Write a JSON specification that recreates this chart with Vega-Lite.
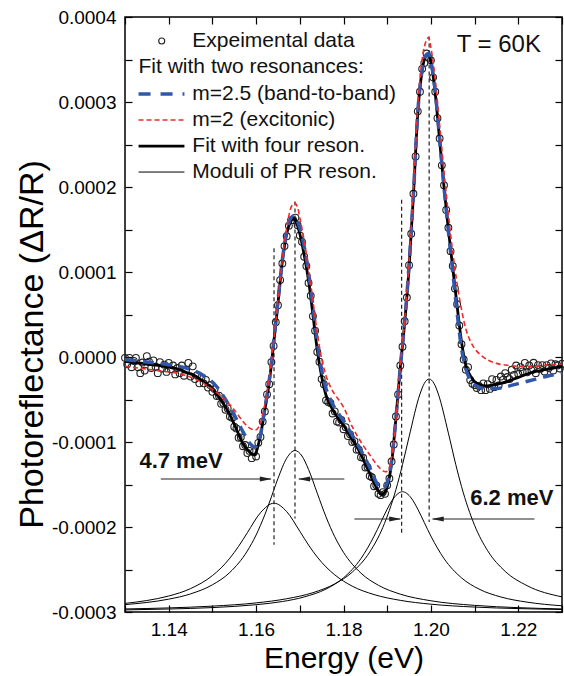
{
  "$schema": "https://vega.github.io/schema/vega-lite/v6.json",
  "width": 437,
  "height": 595,
  "autosize": {"type": "none"},
  "padding": {"left": 125, "top": 17, "right": 2, "bottom": 64},
  "background": "white",
  "config": {
    "view": {"stroke": "black", "strokeWidth": 1.5},
    "font": "Liberation Sans",
    "axis": {"labelFont": "Liberation Sans", "titleFont": "Liberation Sans", "labelColor": "black", "titleColor": "black", "tickColor": "black", "tickWidth": 1.2, "domain": false, "grid": false, "titleFontWeight": "normal"}
  },
  "resolve": {"axis": {"x": "independent", "y": "independent"}},
  "datasets": {
    "mod": [
      {"c":1,"x":1.130,"y":-2.899e-4},{"c":1,"x":1.135,"y":-2.865e-4},{"c":1,"x":1.140,"y":-2.812e-4},{"c":1,"x":1.145,"y":-2.725e-4},{"c":1,"x":1.150,"y":-2.572e-4},{"c":1,"x":1.152,"y":-2.481e-4},{"c":1,"x":1.154,"y":-2.366e-4},{"c":1,"x":1.156,"y":-2.227e-4},{"c":1,"x":1.158,"y":-2.067e-4},{"c":1,"x":1.161,"y":-1.832e-4},{"c":1,"x":1.1641,"y":-1.72e-4},{"c":1,"x":1.167,"y":-1.819e-4},{"c":1,"x":1.170,"y":-2.05e-4},{"c":1,"x":1.172,"y":-2.212e-4},{"c":1,"x":1.174,"y":-2.354e-4},{"c":1,"x":1.176,"y":-2.47e-4},{"c":1,"x":1.178,"y":-2.563e-4},{"c":1,"x":1.182,"y":-2.696e-4},{"c":1,"x":1.187,"y":-2.795e-4},{"c":1,"x":1.193,"y":-2.863e-4},{"c":1,"x":1.200,"y":-2.908e-4},{"c":1,"x":1.210,"y":-2.942e-4},{"c":1,"x":1.220,"y":-2.96e-4},{"c":1,"x":1.230,"y":-2.971e-4},
      {"c":2,"x":1.130,"y":-2.913e-4},{"c":2,"x":1.135,"y":-2.888e-4},{"c":2,"x":1.140,"y":-2.849e-4},{"c":2,"x":1.145,"y":-2.787e-4},{"c":2,"x":1.150,"y":-2.68e-4},{"c":2,"x":1.154,"y":-2.534e-4},{"c":2,"x":1.158,"y":-2.281e-4},{"c":2,"x":1.160,"y":-2.094e-4},{"c":2,"x":1.162,"y":-1.855e-4},{"c":2,"x":1.163,"y":-1.718e-4},{"c":2,"x":1.165,"y":-1.43e-4},{"c":2,"x":1.167,"y":-1.191e-4},{"c":2,"x":1.1689,"y":-1.10e-4},{"c":2,"x":1.1705,"y":-1.165e-4},{"c":2,"x":1.172,"y":-1.323e-4},{"c":2,"x":1.174,"y":-1.603e-4},{"c":2,"x":1.176,"y":-1.881e-4},{"c":2,"x":1.178,"y":-2.115e-4},{"c":2,"x":1.180,"y":-2.298e-4},{"c":2,"x":1.184,"y":-2.543e-4},{"c":2,"x":1.188,"y":-2.686e-4},{"c":2,"x":1.193,"y":-2.79e-4},{"c":2,"x":1.200,"y":-2.868e-4},{"c":2,"x":1.210,"y":-2.922e-4},{"c":2,"x":1.220,"y":-2.949e-4},{"c":2,"x":1.230,"y":-2.964e-4},
      {"c":3,"x":1.130,"y":-2.975e-4},{"c":3,"x":1.140,"y":-2.965e-4},{"c":3,"x":1.150,"y":-2.948e-4},{"c":3,"x":1.160,"y":-2.914e-4},{"c":3,"x":1.166,"y":-2.877e-4},{"c":3,"x":1.171,"y":-2.823e-4},{"c":3,"x":1.176,"y":-2.73e-4},{"c":3,"x":1.180,"y":-2.598e-4},{"c":3,"x":1.184,"y":-2.371e-4},{"c":3,"x":1.187,"y":-2.107e-4},{"c":3,"x":1.1885,"y":-1.949e-4},{"c":3,"x":1.190,"y":-1.79e-4},{"c":3,"x":1.1915,"y":-1.659e-4},{"c":3,"x":1.1935,"y":-1.585e-4},{"c":3,"x":1.1955,"y":-1.659e-4},{"c":3,"x":1.197,"y":-1.79e-4},{"c":3,"x":1.1985,"y":-1.949e-4},{"c":3,"x":1.200,"y":-2.107e-4},{"c":3,"x":1.203,"y":-2.371e-4},{"c":3,"x":1.207,"y":-2.598e-4},{"c":3,"x":1.211,"y":-2.73e-4},{"c":3,"x":1.216,"y":-2.823e-4},{"c":3,"x":1.222,"y":-2.884e-4},{"c":3,"x":1.230,"y":-2.927e-4},
      {"c":4,"x":1.130,"y":-2.964e-4},{"c":4,"x":1.140,"y":-2.952e-4},{"c":4,"x":1.150,"y":-2.931e-4},{"c":4,"x":1.160,"y":-2.893e-4},{"c":4,"x":1.167,"y":-2.844e-4},{"c":4,"x":1.173,"y":-2.773e-4},{"c":4,"x":1.178,"y":-2.669e-4},{"c":4,"x":1.182,"y":-2.531e-4},{"c":4,"x":1.186,"y":-2.295e-4},{"c":4,"x":1.189,"y":-2.005e-4},{"c":4,"x":1.192,"y":-1.559e-4},{"c":4,"x":1.1935,"y":-1.267e-4},{"c":4,"x":1.195,"y":-0.94e-4},{"c":4,"x":1.1975,"y":-0.436e-4},{"c":4,"x":1.1985,"y":-0.31e-4},{"c":4,"x":1.1996,"y":-0.259e-4},{"c":4,"x":1.2007,"y":-0.31e-4},{"c":4,"x":1.2017,"y":-0.436e-4},{"c":4,"x":1.204,"y":-0.8955e-4},{"c":4,"x":1.2057,"y":-1.267e-4},{"c":4,"x":1.207,"y":-1.523e-4},{"c":4,"x":1.210,"y":-1.981e-4},{"c":4,"x":1.213,"y":-2.28e-4},{"c":4,"x":1.217,"y":-2.522e-4},{"c":4,"x":1.222,"y":-2.69e-4},{"c":4,"x":1.230,"y":-2.822e-4}
    ],
    "vl": [
      {"x":1.1641,"y":1.28e-4,"y2":-2.21e-4},
      {"x":1.1689,"y":1.83e-4,"y2":-1.90e-4},
      {"x":1.1933,"y":1.85e-4,"y2":-2.07e-4},
      {"x":1.1996,"y":3.77e-4,"y2":-1.94e-4}
    ],
    "pts": [
      {"x":1.1300,"y":-0.01e-4},{"x":1.1305,"y":-0.085e-4},{"x":1.1310,"y":-0.01e-4},{"x":1.1315,"y":-0.12e-4},{"x":1.1320,"y":-0.045e-4},{"x":1.1325,"y":-0.01e-4},{"x":1.1330,"y":-0.12e-4},{"x":1.1335,"y":-0.19e-4},{"x":1.1340,"y":-0.065e-4},{"x":1.1345,"y":-0.16e-4},
      {"x":1.1350,"y":0.01e-4},{"x":1.1355,"y":-0.055e-4},{"x":1.1360,"y":-0.13e-4},{"x":1.1365,"y":-0.04e-4},{"x":1.1370,"y":-0.115e-4},{"x":1.1375,"y":-0.19e-4},{"x":1.1380,"y":-0.06e-4},{"x":1.1385,"y":-0.135e-4},{"x":1.1390,"y":-0.09e-4},{"x":1.1395,"y":-0.175e-4},
      {"x":1.1400,"y":-0.07e-4},{"x":1.1405,"y":-0.145e-4},{"x":1.1410,"y":-0.10e-4},{"x":1.1415,"y":-0.205e-4},{"x":1.1420,"y":-0.13e-4},{"x":1.1425,"y":-0.19e-4},{"x":1.1430,"y":-0.10e-4},{"x":1.1435,"y":-0.22e-4},{"x":1.1440,"y":-0.15e-4},{"x":1.1445,"y":-0.07e-4},
      {"x":1.1450,"y":-0.23e-4},{"x":1.1455,"y":-0.11e-4},{"x":1.1460,"y":-0.26e-4},{"x":1.1465,"y":-0.215e-4},{"x":1.1470,"y":-0.31e-4},{"x":1.1475,"y":-0.24e-4},{"x":1.1480,"y":-0.31e-4},{"x":1.1485,"y":-0.27e-4},{"x":1.1490,"y":-0.36e-4},{"x":1.1495,"y":-0.33e-4},
      {"x":1.1500,"y":-0.41e-4},{"x":1.1505,"y":-0.375e-4},{"x":1.1510,"y":-0.46e-4},{"x":1.1515,"y":-0.455e-4},{"x":1.1520,"y":-0.55e-4},{"x":1.1525,"y":-0.54e-4},{"x":1.1530,"y":-0.62e-4},{"x":1.1535,"y":-0.605e-4},{"x":1.1540,"y":-0.70e-4},{"x":1.1545,"y":-0.715e-4},
      {"x":1.1550,"y":-0.82e-4},{"x":1.1555,"y":-0.84e-4},{"x":1.1560,"y":-0.95e-4},{"x":1.1565,"y":-0.945e-4},{"x":1.1570,"y":-1.05e-4},{"x":1.1575,"y":-1.035e-4},{"x":1.1580,"y":-1.13e-4},{"x":1.1585,"y":-1.105e-4},{"x":1.1590,"y":-1.19e-4},{"x":1.1595,"y":-1.12e-4},
      {"x":1.1600,"y":-1.17e-4},{"x":1.1605,"y":-1.01e-4},{"x":1.1610,"y":-0.94e-4},{"x":1.1615,"y":-0.76e-4},{"x":1.1620,"y":-0.64e-4},{"x":1.1625,"y":-0.44e-4},{"x":1.1630,"y":-0.32e-4},{"x":1.1635,"y":-0.06e-4},{"x":1.1640,"y":0.13e-4},{"x":1.1645,"y":0.41e-4},
      {"x":1.1650,"y":0.61e-4},{"x":1.1655,"y":0.905e-4},{"x":1.1660,"y":1.10e-4},{"x":1.1665,"y":1.305e-4},{"x":1.1670,"y":1.42e-4},{"x":1.1675,"y":1.545e-4},{"x":1.1680,"y":1.61e-4},{"x":1.1685,"y":1.61e-4},{"x":1.1690,"y":1.64e-4},{"x":1.1695,"y":1.55e-4},
      {"x":1.1700,"y":1.43e-4},{"x":1.1705,"y":1.355e-4},{"x":1.1710,"y":1.18e-4},{"x":1.1715,"y":1.07e-4},{"x":1.1720,"y":0.87e-4},{"x":1.1725,"y":0.72e-4},{"x":1.1730,"y":0.48e-4},{"x":1.1735,"y":0.31e-4},{"x":1.1740,"y":0.06e-4},{"x":1.1745,"y":-0.055e-4},
      {"x":1.1750,"y":-0.26e-4},{"x":1.1755,"y":-0.32e-4},{"x":1.1760,"y":-0.51e-4},{"x":1.1765,"y":-0.53e-4},{"x":1.1770,"y":-0.54e-4},{"x":1.1775,"y":-0.665e-4},{"x":1.1780,"y":-0.64e-4},{"x":1.1785,"y":-0.76e-4},{"x":1.1790,"y":-0.77e-4},{"x":1.1795,"y":-0.74e-4},
      {"x":1.1800,"y":-0.85e-4},{"x":1.1805,"y":-0.825e-4},{"x":1.1810,"y":-0.93e-4},{"x":1.1815,"y":-0.91e-4},{"x":1.1820,"y":-1.00e-4},{"x":1.1825,"y":-0.99e-4},{"x":1.1830,"y":-1.09e-4},{"x":1.1835,"y":-1.09e-4},{"x":1.1840,"y":-1.18e-4},{"x":1.1845,"y":-1.185e-4},
      {"x":1.1850,"y":-1.30e-4},{"x":1.1855,"y":-1.295e-4},{"x":1.1860,"y":-1.40e-4},{"x":1.1865,"y":-1.415e-4},{"x":1.1870,"y":-1.52e-4},{"x":1.1875,"y":-1.51e-4},{"x":1.1880,"y":-1.61e-4},{"x":1.1885,"y":-1.625e-4},{"x":1.1890,"y":-1.59e-4},{"x":1.1895,"y":-1.61e-4},
      {"x":1.1900,"y":-1.51e-4},{"x":1.1905,"y":-1.43e-4},{"x":1.1910,"y":-1.23e-4},{"x":1.1915,"y":-1.03e-4},{"x":1.1920,"y":-0.70e-4},{"x":1.1925,"y":-0.44e-4},{"x":1.1930,"y":-0.10e-4},{"x":1.1935,"y":0.12e-4},{"x":1.1940,"y":0.42e-4},{"x":1.1945,"y":0.70e-4},
      {"x":1.1950,"y":1.08e-4},{"x":1.1955,"y":1.45e-4},{"x":1.1960,"y":1.92e-4},{"x":1.1965,"y":2.36e-4},{"x":1.1970,"y":2.89e-4},{"x":1.1975,"y":3.12e-4},{"x":1.1980,"y":3.39e-4},{"x":1.1985,"y":3.46e-4},{"x":1.1990,"y":3.57e-4},{"x":1.1995,"y":3.52e-4},
      {"x":1.2000,"y":3.49e-4},{"x":1.2005,"y":3.29e-4},{"x":1.2010,"y":3.12e-4},{"x":1.2015,"y":2.81e-4},{"x":1.2020,"y":2.57e-4},{"x":1.2025,"y":2.255e-4},{"x":1.2030,"y":2.02e-4},{"x":1.2035,"y":1.73e-4},{"x":1.2040,"y":1.52e-4},{"x":1.2045,"y":1.245e-4},
      {"x":1.2050,"y":1.07e-4},{"x":1.2055,"y":0.805e-4},{"x":1.2060,"y":0.62e-4},{"x":1.2065,"y":0.37e-4},{"x":1.2070,"y":0.15e-4},{"x":1.2075,"y":-0.03e-4},{"x":1.2080,"y":-0.15e-4},{"x":1.2085,"y":-0.12e-4},{"x":1.2090,"y":-0.27e-4},{"x":1.2095,"y":-0.315e-4},
      {"x":1.2100,"y":-0.33e-4},{"x":1.2105,"y":-0.365e-4},{"x":1.2110,"y":-0.34e-4},{"x":1.2115,"y":-0.39e-4},{"x":1.2120,"y":-0.31e-4},{"x":1.2125,"y":-0.39e-4},{"x":1.2130,"y":-0.32e-4},{"x":1.2135,"y":-0.375e-4},{"x":1.2140,"y":-0.26e-4},{"x":1.2145,"y":-0.355e-4},
      {"x":1.2150,"y":-0.27e-4},{"x":1.2155,"y":-0.335e-4},{"x":1.2160,"y":-0.23e-4},{"x":1.2165,"y":-0.27e-4},{"x":1.2170,"y":-0.19e-4},{"x":1.2175,"y":-0.235e-4},{"x":1.2180,"y":-0.26e-4},{"x":1.2185,"y":-0.15e-4},{"x":1.2190,"y":-0.21e-4},{"x":1.2195,"y":-0.10e-4},
      {"x":1.2200,"y":-0.20e-4},{"x":1.2205,"y":-0.12e-4},{"x":1.2210,"y":-0.17e-4},{"x":1.2215,"y":-0.07e-4},{"x":1.2220,"y":-0.18e-4},{"x":1.2225,"y":-0.10e-4},{"x":1.2230,"y":-0.155e-4},{"x":1.2235,"y":-0.068e-4},{"x":1.2240,"y":-0.19e-4},{"x":1.2245,"y":-0.095e-4},
      {"x":1.2250,"y":-0.14e-4},{"x":1.2255,"y":-0.095e-4},{"x":1.2260,"y":-0.17e-4},{"x":1.2265,"y":-0.095e-4},{"x":1.2270,"y":-0.13e-4},{"x":1.2275,"y":-0.075e-4},{"x":1.2280,"y":-0.16e-4},{"x":1.2285,"y":-0.085e-4},{"x":1.2290,"y":-0.10e-4},{"x":1.2295,"y":-0.135e-4},
      {"x":1.2300,"y":-0.08e-4}
    ],
    "fit": [
      {"x":1.130,"y":-0.05e-4},{"x":1.132,"y":-0.065e-4},{"x":1.134,"y":-0.075e-4},{"x":1.136,"y":-0.09e-4},{"x":1.138,"y":-0.10e-4},{"x":1.140,"y":-0.12e-4},{"x":1.142,"y":-0.14e-4},{"x":1.144,"y":-0.18e-4},{"x":1.146,"y":-0.22e-4},{"x":1.148,"y":-0.29e-4},
      {"x":1.150,"y":-0.37e-4},{"x":1.151,"y":-0.44e-4},{"x":1.152,"y":-0.51e-4},{"x":1.153,"y":-0.59e-4},{"x":1.154,"y":-0.68e-4},{"x":1.155,"y":-0.79e-4},{"x":1.156,"y":-0.91e-4},{"x":1.157,"y":-1.02e-4},{"x":1.158,"y":-1.09e-4},{"x":1.159,"y":-1.14e-4},
      {"x":1.1597,"y":-1.15e-4},{"x":1.160,"y":-1.12e-4},{"x":1.161,"y":-0.92e-4},{"x":1.162,"y":-0.62e-4},{"x":1.163,"y":-0.30e-4},{"x":1.164,"y":0.15e-4},{"x":1.165,"y":0.63e-4},{"x":1.166,"y":1.12e-4},{"x":1.167,"y":1.45e-4},{"x":1.168,"y":1.60e-4},
      {"x":1.1685,"y":1.63e-4},{"x":1.169,"y":1.61e-4},{"x":1.170,"y":1.45e-4},{"x":1.171,"y":1.20e-4},{"x":1.172,"y":0.90e-4},{"x":1.173,"y":0.50e-4},{"x":1.174,"y":0.08e-4},{"x":1.175,"y":-0.23e-4},{"x":1.176,"y":-0.45e-4},{"x":1.177,"y":-0.57e-4},
      {"x":1.178,"y":-0.66e-4},{"x":1.179,"y":-0.74e-4},{"x":1.180,"y":-0.80e-4},{"x":1.181,"y":-0.89e-4},{"x":1.182,"y":-0.97e-4},{"x":1.183,"y":-1.05e-4},{"x":1.184,"y":-1.15e-4},{"x":1.185,"y":-1.26e-4},{"x":1.186,"y":-1.37e-4},{"x":1.187,"y":-1.48e-4},
      {"x":1.188,"y":-1.58e-4},{"x":1.1887,"y":-1.62e-4},{"x":1.1895,"y":-1.59e-4},{"x":1.190,"y":-1.53e-4},{"x":1.191,"y":-1.25e-4},{"x":1.192,"y":-0.72e-4},{"x":1.193,"y":-0.12e-4},{"x":1.194,"y":0.40e-4},{"x":1.195,"y":1.05e-4},{"x":1.196,"y":1.90e-4},
      {"x":1.197,"y":2.87e-4},{"x":1.198,"y":3.37e-4},{"x":1.199,"y":3.55e-4},{"x":1.1995,"y":3.56e-4},{"x":1.200,"y":3.47e-4},{"x":1.201,"y":3.10e-4},{"x":1.202,"y":2.55e-4},{"x":1.203,"y":2.00e-4},{"x":1.204,"y":1.50e-4},{"x":1.205,"y":1.05e-4},
      {"x":1.206,"y":0.60e-4},{"x":1.207,"y":0.18e-4},{"x":1.208,"y":-0.10e-4},{"x":1.209,"y":-0.22e-4},{"x":1.210,"y":-0.29e-4},{"x":1.211,"y":-0.32e-4},{"x":1.2125,"y":-0.34e-4},{"x":1.214,"y":-0.33e-4},{"x":1.216,"y":-0.31e-4},{"x":1.218,"y":-0.28e-4},
      {"x":1.220,"y":-0.24e-4},{"x":1.222,"y":-0.20e-4},{"x":1.224,"y":-0.17e-4},{"x":1.226,"y":-0.15e-4},{"x":1.228,"y":-0.13e-4},{"x":1.230,"y":-0.11e-4}
    ],
    "blue": [
      {"x":1.130,"y":-0.03e-4},{"x":1.135,"y":-0.06e-4},{"x":1.140,"y":-0.09e-4},{"x":1.144,"y":-0.13e-4},{"x":1.148,"y":-0.22e-4},{"x":1.151,"y":-0.35e-4},{"x":1.153,"y":-0.50e-4},{"x":1.155,"y":-0.68e-4},{"x":1.157,"y":-0.88e-4},{"x":1.158,"y":-0.97e-4},
      {"x":1.159,"y":-1.04e-4},{"x":1.1597,"y":-1.06e-4},{"x":1.1605,"y":-1.02e-4},{"x":1.161,"y":-0.92e-4},{"x":1.162,"y":-0.60e-4},{"x":1.163,"y":-0.28e-4},{"x":1.164,"y":0.17e-4},{"x":1.165,"y":0.66e-4},{"x":1.166,"y":1.14e-4},{"x":1.167,"y":1.48e-4},
      {"x":1.168,"y":1.64e-4},{"x":1.1685,"y":1.66e-4},{"x":1.169,"y":1.64e-4},{"x":1.170,"y":1.52e-4},{"x":1.171,"y":1.30e-4},{"x":1.172,"y":1.00e-4},{"x":1.173,"y":0.60e-4},{"x":1.174,"y":0.18e-4},{"x":1.175,"y":-0.15e-4},{"x":1.176,"y":-0.37e-4},
      {"x":1.177,"y":-0.50e-4},{"x":1.178,"y":-0.60e-4},{"x":1.180,"y":-0.75e-4},{"x":1.182,"y":-0.92e-4},{"x":1.184,"y":-1.10e-4},{"x":1.186,"y":-1.30e-4},{"x":1.187,"y":-1.42e-4},{"x":1.188,"y":-1.52e-4},{"x":1.189,"y":-1.55e-4},{"x":1.190,"y":-1.48e-4},
      {"x":1.191,"y":-1.22e-4},{"x":1.192,"y":-0.72e-4},{"x":1.193,"y":-0.12e-4},{"x":1.194,"y":0.42e-4},{"x":1.195,"y":1.08e-4},{"x":1.196,"y":1.92e-4},{"x":1.197,"y":2.88e-4},{"x":1.198,"y":3.38e-4},{"x":1.199,"y":3.56e-4},{"x":1.1995,"y":3.57e-4},
      {"x":1.200,"y":3.48e-4},{"x":1.201,"y":3.12e-4},{"x":1.202,"y":2.56e-4},{"x":1.203,"y":2.00e-4},{"x":1.204,"y":1.48e-4},{"x":1.205,"y":1.00e-4},{"x":1.206,"y":0.52e-4},{"x":1.207,"y":0.10e-4},{"x":1.208,"y":-0.14e-4},{"x":1.209,"y":-0.27e-4},
      {"x":1.210,"y":-0.33e-4},{"x":1.2125,"y":-0.37e-4},{"x":1.215,"y":-0.37e-4},{"x":1.218,"y":-0.34e-4},{"x":1.221,"y":-0.30e-4},{"x":1.224,"y":-0.26e-4},{"x":1.227,"y":-0.22e-4},{"x":1.230,"y":-0.19e-4}
    ],
    "red": [
      {"x":1.130,"y":-0.11e-4},{"x":1.133,"y":-0.13e-4},{"x":1.136,"y":-0.15e-4},{"x":1.139,"y":-0.17e-4},{"x":1.142,"y":-0.19e-4},{"x":1.144,"y":-0.22e-4},{"x":1.146,"y":-0.26e-4},{"x":1.148,"y":-0.31e-4},{"x":1.150,"y":-0.38e-4},{"x":1.1515,"y":-0.44e-4},
      {"x":1.153,"y":-0.51e-4},{"x":1.1545,"y":-0.59e-4},{"x":1.156,"y":-0.69e-4},{"x":1.157,"y":-0.76e-4},{"x":1.158,"y":-0.815e-4},{"x":1.159,"y":-0.85e-4},{"x":1.1598,"y":-0.86e-4},{"x":1.1605,"y":-0.83e-4},{"x":1.161,"y":-0.77e-4},{"x":1.162,"y":-0.56e-4},
      {"x":1.163,"y":-0.25e-4},{"x":1.164,"y":0.18e-4},{"x":1.165,"y":0.66e-4},{"x":1.166,"y":1.15e-4},{"x":1.167,"y":1.52e-4},{"x":1.168,"y":1.76e-4},{"x":1.1688,"y":1.81e-4},{"x":1.1695,"y":1.76e-4},{"x":1.170,"y":1.64e-4},{"x":1.171,"y":1.37e-4},
      {"x":1.172,"y":1.04e-4},{"x":1.173,"y":0.66e-4},{"x":1.174,"y":0.28e-4},{"x":1.175,"y":-0.02e-4},{"x":1.176,"y":-0.22e-4},{"x":1.177,"y":-0.35e-4},{"x":1.178,"y":-0.44e-4},{"x":1.179,"y":-0.51e-4},{"x":1.180,"y":-0.59e-4},{"x":1.182,"y":-0.82e-4},
      {"x":1.184,"y":-1.00e-4},{"x":1.186,"y":-1.15e-4},{"x":1.188,"y":-1.29e-4},{"x":1.189,"y":-1.34e-4},{"x":1.1897,"y":-1.35e-4},{"x":1.1905,"y":-1.30e-4},{"x":1.191,"y":-1.18e-4},{"x":1.192,"y":-0.74e-4},{"x":1.193,"y":-0.10e-4},{"x":1.194,"y":0.44e-4},
      {"x":1.195,"y":1.11e-4},{"x":1.196,"y":1.98e-4},{"x":1.197,"y":2.95e-4},{"x":1.198,"y":3.50e-4},{"x":1.199,"y":3.73e-4},{"x":1.1995,"y":3.76e-4},{"x":1.200,"y":3.64e-4},{"x":1.201,"y":3.26e-4},{"x":1.202,"y":2.72e-4},{"x":1.203,"y":2.18e-4},
      {"x":1.204,"y":1.68e-4},{"x":1.205,"y":1.23e-4},{"x":1.206,"y":0.86e-4},{"x":1.207,"y":0.56e-4},{"x":1.208,"y":0.33e-4},{"x":1.209,"y":0.19e-4},{"x":1.210,"y":0.10e-4},{"x":1.2115,"y":0.02e-4},{"x":1.213,"y":-0.035e-4},{"x":1.215,"y":-0.075e-4},
      {"x":1.218,"y":-0.10e-4},{"x":1.221,"y":-0.11e-4},{"x":1.224,"y":-0.105e-4},{"x":1.227,"y":-0.095e-4},{"x":1.230,"y":-0.085e-4}
    ]
  },
  "layer": [
    {
      "data": {"name": "mod"},
      "mark": {"type": "line", "color": "black", "strokeWidth": 1, "interpolate": "monotone"},
      "encoding": {
        "x": {"field": "x", "type": "quantitative", "scale": {"domain": [1.13, 1.23], "nice": false, "zero": false},
          "axis": {"orient": "bottom", "values": [1.13,1.14,1.15,1.16,1.17,1.18,1.19,1.2,1.21,1.22,1.23], "format": ".2f",
            "labelExpr": "indexof(['1.14','1.16','1.18','1.20','1.22'], datum.label) >= 0 ? datum.label : ''",
            "tickSize": -7, "labelPadding": 15, "labelFontSize": 19, "title": "Energy (eV)", "titleFontSize": 30, "titlePadding": 4, "labelFlush": false}},
        "y": {"field": "y", "type": "quantitative", "scale": {"domain": [-0.0003, 0.0004], "nice": false, "zero": false},
          "axis": {"orient": "left", "values": [-0.0003,-0.00025,-0.0002,-0.00015,-0.0001,-0.00005,0,0.00005,0.0001,0.00015,0.0002,0.00025,0.0003,0.00035,0.0004],
            "labelExpr": "abs(datum.value*10000 - round(datum.value*10000)) < 0.01 ? (datum.value < -0.000001 ? '-' + format(-datum.value, '.4f') : format(abs(datum.value), '.4f')) : ''",
            "tickSize": -7, "labelPadding": 16, "labelFontSize": 19, "title": "Photoreflectance (ΔR/R)", "titleFontSize": 34, "titleX": -76, "titleY": 327, "labelFlush": false}},
        "detail": {"field": "c", "type": "nominal"}
      }
    },
    {
      "data": {"name": "vl"},
      "mark": {"type": "rule", "strokeDash": [4, 3], "strokeWidth": 1.2, "color": "#222"},
      "encoding": {
        "x": {"field": "x", "type": "quantitative", "scale": {"domain": [1.13, 1.23], "nice": false, "zero": false},
          "axis": {"orient": "top", "values": [1.13,1.14,1.15,1.16,1.17,1.18,1.19,1.2,1.21,1.22,1.23], "labels": false, "tickSize": -7, "title": null}},
        "y": {"field": "y", "type": "quantitative", "scale": {"domain": [-0.0003, 0.0004], "nice": false, "zero": false},
          "axis": {"orient": "right", "values": [-0.0003,-0.00025,-0.0002,-0.00015,-0.0001,-0.00005,0,0.00005,0.0001,0.00015,0.0002,0.00025,0.0003,0.00035,0.0004], "labels": false, "tickSize": -7, "title": null}},
        "y2": {"field": "y2"}
      }
    },
    {
      "data": {"name": "pts"},
      "mark": {"type": "point", "shape": "circle", "filled": false, "stroke": "#222", "strokeWidth": 1.1, "size": 46, "opacity": 1},
      "encoding": {
        "x": {"field": "x", "type": "quantitative", "axis": null},
        "y": {"field": "y", "type": "quantitative", "axis": null}
      }
    },
    {
      "data": {"name": "fit"},
      "mark": {"type": "line", "color": "black", "strokeWidth": 2.8, "interpolate": "monotone"},
      "encoding": {
        "x": {"field": "x", "type": "quantitative", "axis": null},
        "y": {"field": "y", "type": "quantitative", "axis": null}
      }
    },
    {
      "data": {"name": "blue"},
      "mark": {"type": "line", "color": "#3157ab", "strokeWidth": 3.5, "strokeDash": [11, 7], "interpolate": "monotone"},
      "encoding": {
        "x": {"field": "x", "type": "quantitative", "axis": null},
        "y": {"field": "y", "type": "quantitative", "axis": null}
      }
    },
    {
      "data": {"name": "red"},
      "mark": {"type": "line", "color": "#ee2a2a", "strokeWidth": 1.6, "strokeDash": [5, 3], "interpolate": "monotone"},
      "encoding": {
        "x": {"field": "x", "type": "quantitative", "axis": null},
        "y": {"field": "y", "type": "quantitative", "axis": null}
      }
    },
    {
      "data": {"values": [
        {"x": 1.1382, "x2": 1.1634, "y": -1.435e-4},
        {"x": 1.1802, "x2": 1.1698, "y": -1.435e-4},
        {"x": 1.1825, "x2": 1.1930, "y": -1.906e-4},
        {"x": 1.2237, "x2": 1.2004, "y": -1.906e-4}
      ]},
      "mark": {"type": "rule", "color": "#222", "strokeWidth": 1.2},
      "encoding": {
        "x": {"field": "x", "type": "quantitative", "axis": null},
        "x2": {"field": "x2"},
        "y": {"field": "y", "type": "quantitative", "axis": null}
      }
    },
    {
      "data": {"values": [{"x": 1.1636, "y": -1.435e-4}, {"x": 1.1932, "y": -1.906e-4}]},
      "mark": {"type": "point", "shape": "M0,0L-2,-0.42L-2,0.42Z", "filled": true, "color": "#222", "size": 144, "opacity": 1, "strokeWidth": 0},
      "encoding": {
        "x": {"field": "x", "type": "quantitative", "axis": null},
        "y": {"field": "y", "type": "quantitative", "axis": null}
      }
    },
    {
      "data": {"values": [{"x": 1.1696, "y": -1.435e-4}, {"x": 1.2002, "y": -1.906e-4}]},
      "mark": {"type": "point", "shape": "M0,0L2,-0.42L2,0.42Z", "filled": true, "color": "#222", "size": 144, "opacity": 1, "strokeWidth": 0},
      "encoding": {
        "x": {"field": "x", "type": "quantitative", "axis": null},
        "y": {"field": "y", "type": "quantitative", "axis": null}
      }
    },
    {
      "data": {"values": [{"x": 1.1331, "y": 3.094e-4}, {"x": 1.1436, "y": 3.094e-4}]},
      "mark": {"type": "line", "color": "#3157ab", "strokeWidth": 3.5, "strokeDash": [12, 10]},
      "encoding": {
        "x": {"field": "x", "type": "quantitative", "axis": null},
        "y": {"field": "y", "type": "quantitative", "axis": null}
      }
    },
    {
      "data": {"values": [{"x": 1.1331, "y": 2.788e-4}, {"x": 1.1436, "y": 2.788e-4}]},
      "mark": {"type": "line", "color": "#ee2a2a", "strokeWidth": 1.6, "strokeDash": [5, 3]},
      "encoding": {
        "x": {"field": "x", "type": "quantitative", "axis": null},
        "y": {"field": "y", "type": "quantitative", "axis": null}
      }
    },
    {
      "data": {"values": [{"x": 1.1331, "y": 2.482e-4}, {"x": 1.1436, "y": 2.482e-4}]},
      "mark": {"type": "line", "color": "black", "strokeWidth": 2.8},
      "encoding": {
        "x": {"field": "x", "type": "quantitative", "axis": null},
        "y": {"field": "y", "type": "quantitative", "axis": null}
      }
    },
    {
      "data": {"values": [{"x": 1.1331, "y": 2.176e-4}, {"x": 1.1436, "y": 2.176e-4}]},
      "mark": {"type": "line", "color": "black", "strokeWidth": 1},
      "encoding": {
        "x": {"field": "x", "type": "quantitative", "axis": null},
        "y": {"field": "y", "type": "quantitative", "axis": null}
      }
    },
    {
      "data": {"values": [{"x": 1.1384, "y": 3.718e-4}]},
      "mark": {"type": "point", "shape": "circle", "filled": false, "stroke": "#222", "strokeWidth": 1.1, "size": 36, "opacity": 1},
      "encoding": {
        "x": {"field": "x", "type": "quantitative", "axis": null},
        "y": {"field": "y", "type": "quantitative", "axis": null}
      }
    },
    {
      "data": {"values": [
        {"x": 1.1454, "y": 3.718e-4, "t": "Expeimental data"},
        {"x": 1.1331, "y": 3.412e-4, "t": "Fit with two resonances:"},
        {"x": 1.1454, "y": 3.094e-4, "t": "m=2.5 (band-to-band)"},
        {"x": 1.1454, "y": 2.788e-4, "t": "m=2 (excitonic)"},
        {"x": 1.1454, "y": 2.482e-4, "t": "Fit with four reson."},
        {"x": 1.1454, "y": 2.176e-4, "t": "Moduli of PR reson."}
      ]},
      "mark": {"type": "text", "align": "left", "baseline": "middle", "fontSize": 21, "font": "Liberation Sans", "color": "#111"},
      "encoding": {
        "x": {"field": "x", "type": "quantitative", "axis": null},
        "y": {"field": "y", "type": "quantitative", "axis": null},
        "text": {"field": "t"}
      }
    },
    {
      "data": {"values": [{"x": 1.2059, "y": 3.667e-4, "t": "T = 60K"}]},
      "mark": {"type": "text", "align": "left", "baseline": "middle", "fontSize": 24, "font": "Liberation Sans", "color": "#111"},
      "encoding": {
        "x": {"field": "x", "type": "quantitative", "axis": null},
        "y": {"field": "y", "type": "quantitative", "axis": null},
        "text": {"field": "t"}
      }
    },
    {
      "data": {"values": [
        {"x": 1.1333, "y": -1.22e-4, "t": "4.7 meV"},
        {"x": 1.2090, "y": -1.662e-4, "t": "6.2 meV"}
      ]},
      "mark": {"type": "text", "align": "left", "baseline": "middle", "fontSize": 22, "fontWeight": "bold", "font": "Liberation Sans", "color": "#111"},
      "encoding": {
        "x": {"field": "x", "type": "quantitative", "axis": null},
        "y": {"field": "y", "type": "quantitative", "axis": null},
        "text": {"field": "t"}
      }
    }
  ]
}
